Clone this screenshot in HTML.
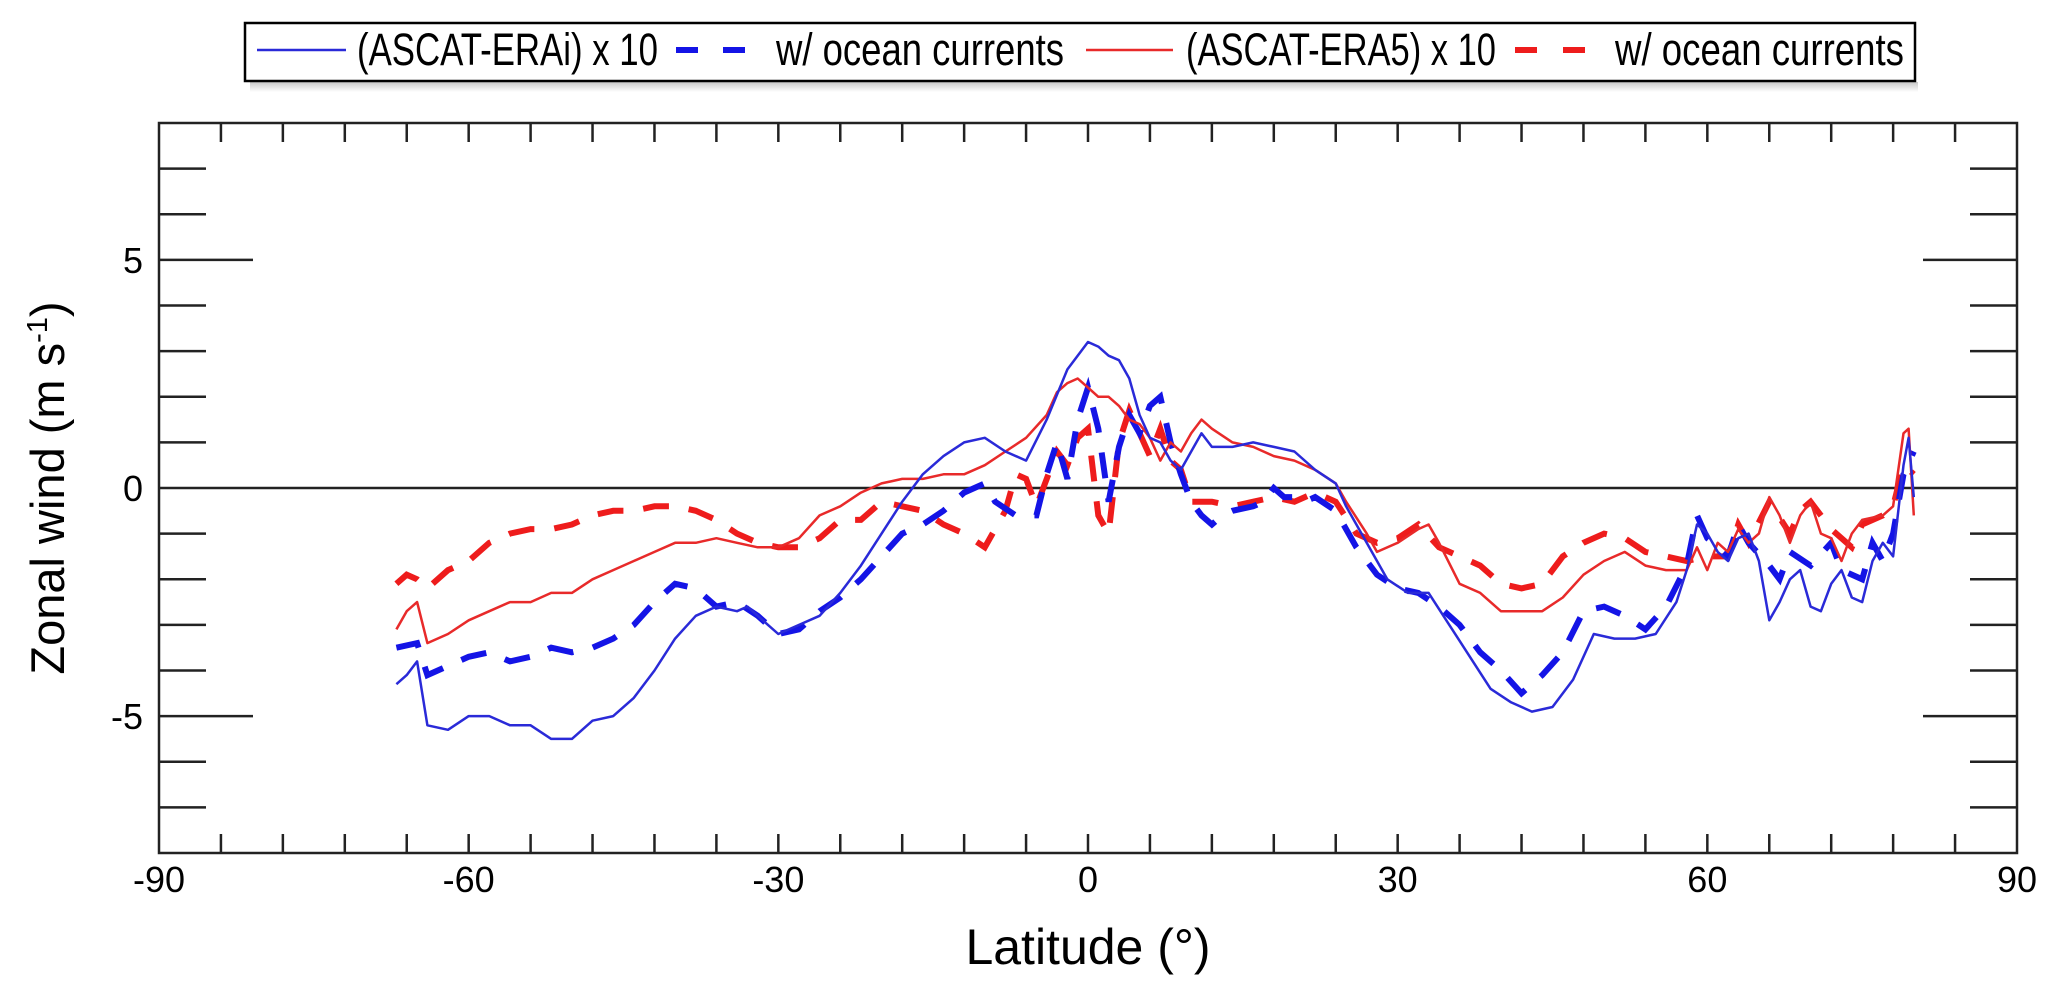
<!DOCTYPE html>
<html><head><meta charset="utf-8"><style>
html,body{margin:0;padding:0;background:#fff;}
svg{display:block;font-family:"Liberation Sans",Arial,sans-serif;}
</style></head><body>
<svg id="chart" width="2067" height="994" viewBox="0 0 2067 994" xmlns="http://www.w3.org/2000/svg">
<defs>
<linearGradient id="shadowGrad" x1="0" y1="0" x2="0" y2="1">
<stop offset="0" stop-color="#c8c8c8"/><stop offset="1" stop-color="#ffffff"/>
</linearGradient>
</defs>
<g>
<rect x="250" y="82" width="1668" height="10" fill="url(#shadowGrad)"/>
<rect x="245" y="23" width="1670" height="58" fill="#fff" stroke="#000" stroke-width="2.5"/>
<g>
<line x1="257" y1="50" x2="346" y2="50" stroke="#2a2ad8" stroke-width="2.5"/>
<text x="357" y="65" font-size="45" textLength="301" lengthAdjust="spacingAndGlyphs">(ASCAT-ERAi) x 10</text>
</g>
<g>
<line x1="676" y1="50" x2="745" y2="50" stroke="#1414e6" stroke-width="6" stroke-dasharray="22 25"/>
<text x="776" y="65" font-size="45" textLength="288" lengthAdjust="spacingAndGlyphs">w/ ocean currents</text>
</g>
<g>
<line x1="1086" y1="50" x2="1173" y2="50" stroke="#e82a2a" stroke-width="2.5"/>
<text x="1186" y="65" font-size="45" textLength="310" lengthAdjust="spacingAndGlyphs">(ASCAT-ERA5) x 10</text>
</g>
<g>
<line x1="1515" y1="50" x2="1585" y2="50" stroke="#ee1c1c" stroke-width="6" stroke-dasharray="22 26"/>
<text x="1615" y="65" font-size="45" textLength="289" lengthAdjust="spacingAndGlyphs">w/ ocean currents</text>
</g>
</g>
<g id="axes"></g>
<g id="series"></g>
<rect x="159" y="123" width="1858" height="730" fill="none" stroke="#222" stroke-width="2.5"/>
<text x="1088" y="964" font-size="50" text-anchor="middle">Latitude (°)</text>
<text transform="translate(64,488) rotate(-90)" font-size="47" text-anchor="middle">Zonal wind (m s<tspan font-size="29" dy="-17">-1</tspan><tspan dy="17">)</tspan></text>
</svg>
<script>
const xTicks = [-90,-60,-30,0,30,60,90];
const yTicks = [-5,0,5];

const eraiLat = [-67,-66,-65,-64,-62,-60,-58,-56,-54,-52,-50,-48,-46,-44,-42,-40,-38,-36,-34,-33,-31,-30,-28,-26,-24,-22,-20,-18,-16,-14,-12,-10,-8,-6,-4,-2,0,1,2,3,4,5,6,7,8,9,10,11,12,14,16,18,20,22,24,25,27,29,31,33,35,37,39,41,43,45,47,49,51,53,55,57,58,59,60,61,62,63,64,65,66,67,68,69,70,71,72,73,74,75,76,77,78,79,79.5,80];
const eraiVal = [-4.3,-4.1,-3.8,-5.2,-5.3,-5.0,-5.0,-5.2,-5.2,-5.5,-5.5,-5.1,-5.0,-4.6,-4.0,-3.3,-2.8,-2.6,-2.7,-2.6,-3.0,-3.2,-3.0,-2.8,-2.3,-1.7,-1.0,-0.3,0.3,0.7,1.0,1.1,0.8,0.6,1.5,2.6,3.2,3.1,2.9,2.8,2.4,1.6,1.1,1.0,0.6,0.4,0.8,1.2,0.9,0.9,1.0,0.9,0.8,0.4,0.1,-0.4,-1.2,-2.0,-2.3,-2.3,-3.0,-3.7,-4.4,-4.7,-4.9,-4.8,-4.2,-3.2,-3.3,-3.3,-3.2,-2.5,-1.8,-0.8,-1.0,-1.4,-1.6,-1.1,-1.0,-1.6,-2.9,-2.5,-2.0,-1.8,-2.6,-2.7,-2.1,-1.8,-2.4,-2.5,-1.6,-1.2,-1.5,0.5,1.1,-0.2];

const eraiCurLat = [-67,-65,-64,-62,-60,-58,-56,-54,-52,-50,-48,-46,-44,-42,-40,-38,-36,-34,-32,-30,-28,-26,-24,-22,-20,-18,-16,-14,-12,-10,-9,-7,-5,-4,-3,-2,-1,0,1,2,3,4,5,6,7,8,9,10,11,12,13,14,16,17,18,19,20,21,22,24,26,28,30,32,34,36,38,40,42,44,46,48,50,52,54,56,58,59,60,62,63,64,66,67,68,70,72,73,75,76,77,78,79,80];
const eraiCurVal = [-3.5,-3.4,-4.1,-3.9,-3.7,-3.6,-3.8,-3.7,-3.5,-3.6,-3.5,-3.3,-3.0,-2.5,-2.1,-2.2,-2.6,-2.5,-2.8,-3.2,-3.1,-2.7,-2.4,-2.0,-1.5,-1.0,-0.8,-0.5,-0.1,0.1,-0.3,-0.6,-0.6,0.3,1.0,0.2,1.5,2.2,1.3,-0.3,0.9,1.6,1.2,1.8,2.0,1.0,0.3,-0.3,-0.6,-0.8,-0.6,-0.5,-0.4,-0.3,0.0,-0.2,-0.2,-0.3,-0.2,-0.5,-1.3,-1.9,-2.2,-2.3,-2.6,-3.0,-3.6,-4.0,-4.5,-4.1,-3.6,-2.7,-2.6,-2.8,-3.1,-2.6,-1.7,-0.6,-1.1,-1.5,-0.8,-1.2,-1.7,-2.0,-1.4,-1.7,-1.2,-1.8,-2.0,-1.2,-1.6,-1.0,0.3,0.8];

const era5Lat = [-67,-66,-65,-64,-62,-60,-58,-56,-54,-52,-50,-48,-46,-44,-42,-40,-38,-36,-34,-32,-30,-28,-26,-24,-22,-20,-18,-16,-14,-12,-10,-8,-6,-4,-3,-2,-1,0,1,2,3,4,5,6,7,8,9,10,11,12,14,16,18,20,22,24,25,27,28,30,32,33,34,36,38,40,42,44,46,48,50,52,54,56,58,59,60,61,62,63,64,65,66,67,68,69,70,71,72,73,74,75,77,78,79,79.5,80];
const era5Val = [-3.1,-2.7,-2.5,-3.4,-3.2,-2.9,-2.7,-2.5,-2.5,-2.3,-2.3,-2.0,-1.8,-1.6,-1.4,-1.2,-1.2,-1.1,-1.2,-1.3,-1.3,-1.1,-0.6,-0.4,-0.1,0.1,0.2,0.2,0.3,0.3,0.5,0.8,1.1,1.6,2.1,2.3,2.4,2.2,2.0,2.0,1.8,1.5,1.4,1.1,0.6,1.0,0.8,1.2,1.5,1.3,1.0,0.9,0.7,0.6,0.4,0.1,-0.3,-1.0,-1.4,-1.2,-0.9,-0.8,-1.2,-2.1,-2.3,-2.7,-2.7,-2.7,-2.4,-1.9,-1.6,-1.4,-1.7,-1.8,-1.8,-1.3,-1.8,-1.2,-1.4,-0.9,-1.2,-1.0,-0.2,-0.6,-1.2,-0.6,-0.3,-1.0,-1.1,-1.6,-1.0,-0.7,-0.6,-0.4,1.2,1.3,-0.6];

const era5CurLat = [-67,-66,-65,-64,-62,-60,-58,-56,-54,-52,-50,-48,-46,-44,-42,-40,-38,-36,-34,-32,-30,-28,-26,-24,-22,-20,-18,-16,-14,-12,-10,-9,-8,-7,-6,-5,-4,-3,-2,-1,0,1,2,3,4,5,6,7,8,9,10,12,14,16,18,20,22,24,26,28,30,32,34,36,38,40,42,44,46,48,50,52,54,56,58,60,62,63,64,66,68,69,70,72,74,75,77,78,79,80];
const era5CurVal = [-2.1,-1.9,-2.0,-2.2,-1.8,-1.6,-1.2,-1.0,-0.9,-0.9,-0.8,-0.6,-0.5,-0.5,-0.4,-0.4,-0.5,-0.7,-1.0,-1.2,-1.3,-1.3,-1.1,-0.7,-0.7,-0.3,-0.4,-0.5,-0.8,-1.0,-1.3,-0.9,-0.5,0.3,0.2,-0.4,0.2,0.8,0.5,1.1,1.3,-0.6,-1.0,1.0,1.7,1.2,0.7,1.3,0.6,0.4,-0.3,-0.3,-0.4,-0.3,-0.2,-0.3,-0.1,-0.3,-1.0,-1.2,-1.1,-0.8,-1.3,-1.5,-1.7,-2.1,-2.2,-2.1,-1.5,-1.2,-1.0,-1.1,-1.4,-1.5,-1.6,-1.5,-1.5,-0.8,-1.2,-0.3,-1.0,-0.5,-0.3,-0.9,-1.3,-0.8,-0.6,-0.4,0.5,0.3];

const X0 = 159, X1 = 2017, Y0 = 123, Y1 = 853;
function xs(lat){ return X0 + (lat + 90) / 180 * (X1 - X0); }
function ys(v){ return Y1 - (v + 8) / 16 * (Y1 - Y0); }

const NS = 'http://www.w3.org/2000/svg';
const axes = document.getElementById('axes');
const series = document.getElementById('series');
function mk(tag, attrs, parent){
  const e = document.createElementNS(NS, tag);
  for (const k in attrs) e.setAttribute(k, attrs[k]);
  parent.appendChild(e);
  return e;
}

for (let lat = -84; lat < 90; lat += 6) {
  const x = xs(lat);
  const t1 = mk('line', {x1:x, x2:x, y1:Y1, y2:Y1-19, stroke:'#222','stroke-width':2.5}, axes);
  
  
  const t2 = mk('line', {x1:x, x2:x, y1:Y0, y2:Y0+19, stroke:'#222','stroke-width':2.5}, axes);
  
  
}
xTicks.forEach(v => {
  const t = mk('text', {x:xs(v), y:892, 'font-size':36, 'text-anchor':'middle'}, axes);
  t.textContent = v;
  
  
});
for (let v = -7; v <= 7; v++) {
  if (v === 0) continue;
  const len = (v % 5 === 0) ? 94 : 47;
  const y = ys(v);
  const a = mk('line', {x1:X0, x2:X0+len, y1:y, y2:y, stroke:'#222','stroke-width':2.5}, axes);
  
  
  const b = mk('line', {x1:X1, x2:X1-len, y1:y, y2:y, stroke:'#222','stroke-width':2.5}, axes);
  
  
}
yTicks.forEach(v => {
  const t = mk('text', {x:143, y:ys(v)+13, 'font-size':36, 'text-anchor':'end'}, axes);
  t.textContent = v;
  
  
});
const zl = mk('line', {x1:X0, x2:X1, y1:ys(0), y2:ys(0), stroke:'#222','stroke-width':2.5}, axes);



function path(lats, vals){
  return lats.map((l,i) => (i ? 'L' : 'M') + xs(l).toFixed(1) + ',' + ys(vals[i]).toFixed(1)).join(' ');
}
const p1 = mk('path', {d:path(era5CurLat, era5CurVal), fill:'none', stroke:'#ee1c1c','stroke-width':6,'stroke-dasharray':'26 20'}, series);


const p2 = mk('path', {d:path(eraiCurLat, eraiCurVal), fill:'none', stroke:'#1414e6','stroke-width':6,'stroke-dasharray':'26 20'}, series);


const p3 = mk('path', {d:path(era5Lat, era5Val), fill:'none', stroke:'#e82a2a','stroke-width':2.5,'stroke-linejoin':'round'}, series);


const p4 = mk('path', {d:path(eraiLat, eraiVal), fill:'none', stroke:'#2a2ad8','stroke-width':2.5,'stroke-linejoin':'round'}, series);


</script>
</body></html>
